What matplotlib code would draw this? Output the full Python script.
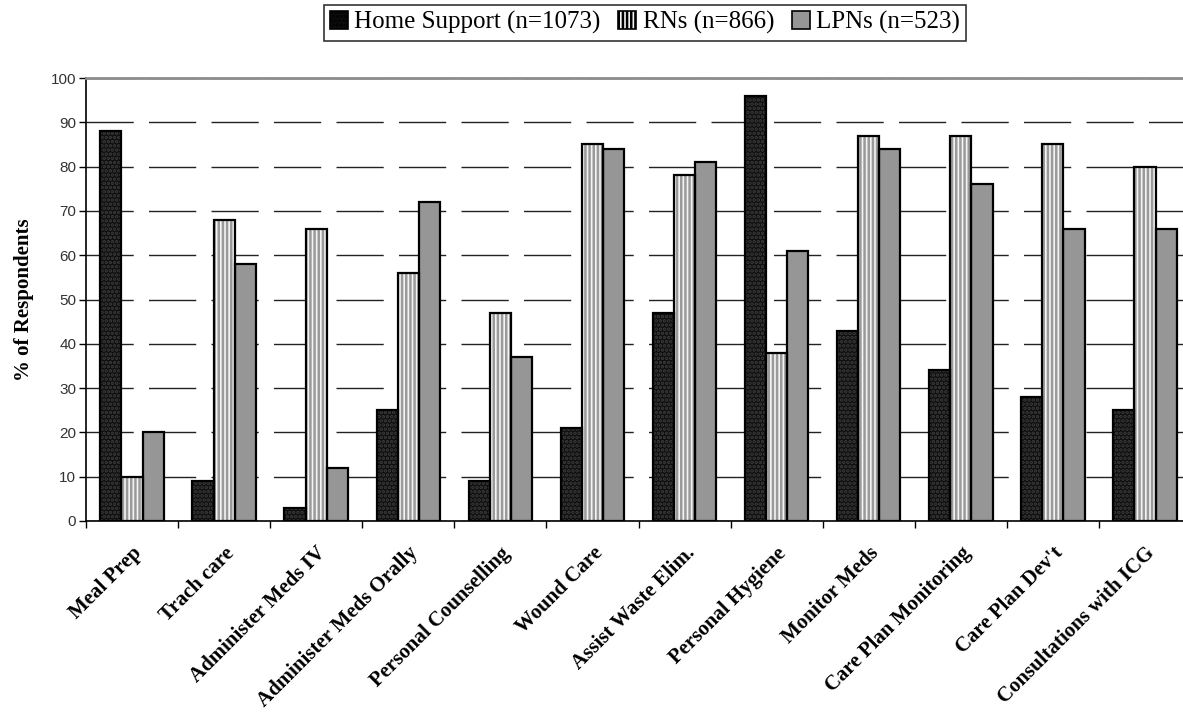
import numpy as np
import matplotlib.pyplot as plt

categories = ['Meal Prep', 'Trach care', 'Administer Meds IV', 'Administer Meds Orally',
              'Personal Counselling', 'Wound Care', 'Assist Waste Elim.', 'Personal Hygiene',
              'Monitor Meds', 'Care Plan Monitoring', "Care Plan Dev't", 'Consultations with ICG']
home_support = [88, 9, 3, 25, 9, 21, 47, 96, 43, 34, 28, 25]
rns = [10, 68, 66, 56, 47, 85, 78, 38, 87, 87, 85, 80]
lpns = [20, 58, 12, 72, 37, 84, 81, 61, 84, 76, 66, 66]
series_names = ['Home Support (n=1073)', 'RNs (n=866)', 'LPNs (n=523)']

plt.rcParams['hatch.linewidth'] = 1.8

W, H = 1183, 714
fig = plt.figure(figsize=(W / 100, H / 100), dpi=100)
ax = fig.add_axes([86 / W, (H - 521) / H, 1105 / W, 443 / H])

x = np.arange(len(categories)) + 0.5
bw = 0.23
styles = [
    dict(face='#0e0e0e', hatch='....', hcol='#3c3c3c'),
    dict(face='#f4f4f4', hatch='||||', hcol='#9a9a9a'),
    dict(face='#969696', hatch=None, hcol='#969696'),
]
handles = []
for i, (vals, st) in enumerate(zip([home_support, rns, lpns], styles)):
    pos = x + (i - 1) * bw
    # fill + hatch first, then a plain black outline on top
    ax.bar(pos, vals, bw, color=st['face'], hatch=st['hatch'],
           edgecolor=st['hcol'], linewidth=0, zorder=2)
    ax.bar(pos, vals, bw, fill=False, edgecolor='black', linewidth=1.6, zorder=3)
    h = plt.Rectangle((0, 0), 1, 1, facecolor=st['face'], hatch=st['hatch'],
                      edgecolor='black', linewidth=1.2)
    handles.append(h)

ax.set_xlim(0, len(categories))
ax.set_ylim(0, 100)
ax.set_yticks(range(0, 101, 10))
ax.yaxis.grid(True, color='#222222', linewidth=1, linestyle=(0, (34, 11)), zorder=0)
ax.set_axisbelow(True)
ax.set_xticks(np.arange(len(categories) + 1))
ax.set_xticklabels([])
ax.tick_params(axis='both', direction='out', length=5, width=1, colors='black')
ax.tick_params(axis='y', labelsize=11, labelcolor='#333333', pad=2)
for lab in ax.get_yticklabels():
    lab.set_family('Liberation Sans')

ax.spines['right'].set_visible(False)
ax.spines['top'].set_color('#8c8c8c')
ax.spines['top'].set_linewidth(2)
ax.spines['left'].set_linewidth(1.2)
ax.spines['bottom'].set_linewidth(1.2)

for xc, name in zip(x, categories):
    ax.text(xc, -5.0, name, rotation=45, ha='right', va='top', rotation_mode='anchor',
            fontsize=15, fontweight='bold', family='Liberation Serif', clip_on=False)

ax.set_ylabel('% of Respondents', fontsize=15, fontweight='bold',
              family='Liberation Serif', labelpad=12)

leg = fig.legend(handles, series_names, loc='upper center', bbox_to_anchor=(645 / W, 1 - 5 / H),
                 ncol=3, frameon=True, fancybox=False, edgecolor='black',
                 prop={'family': 'Liberation Serif', 'size': 18},
                 handlelength=0.72, handleheight=0.72, handletextpad=0.25,
                 columnspacing=0.7, borderpad=0.25, borderaxespad=0)
leg.get_frame().set_linewidth(1.2)

fig.savefig('out.png', dpi=100)
